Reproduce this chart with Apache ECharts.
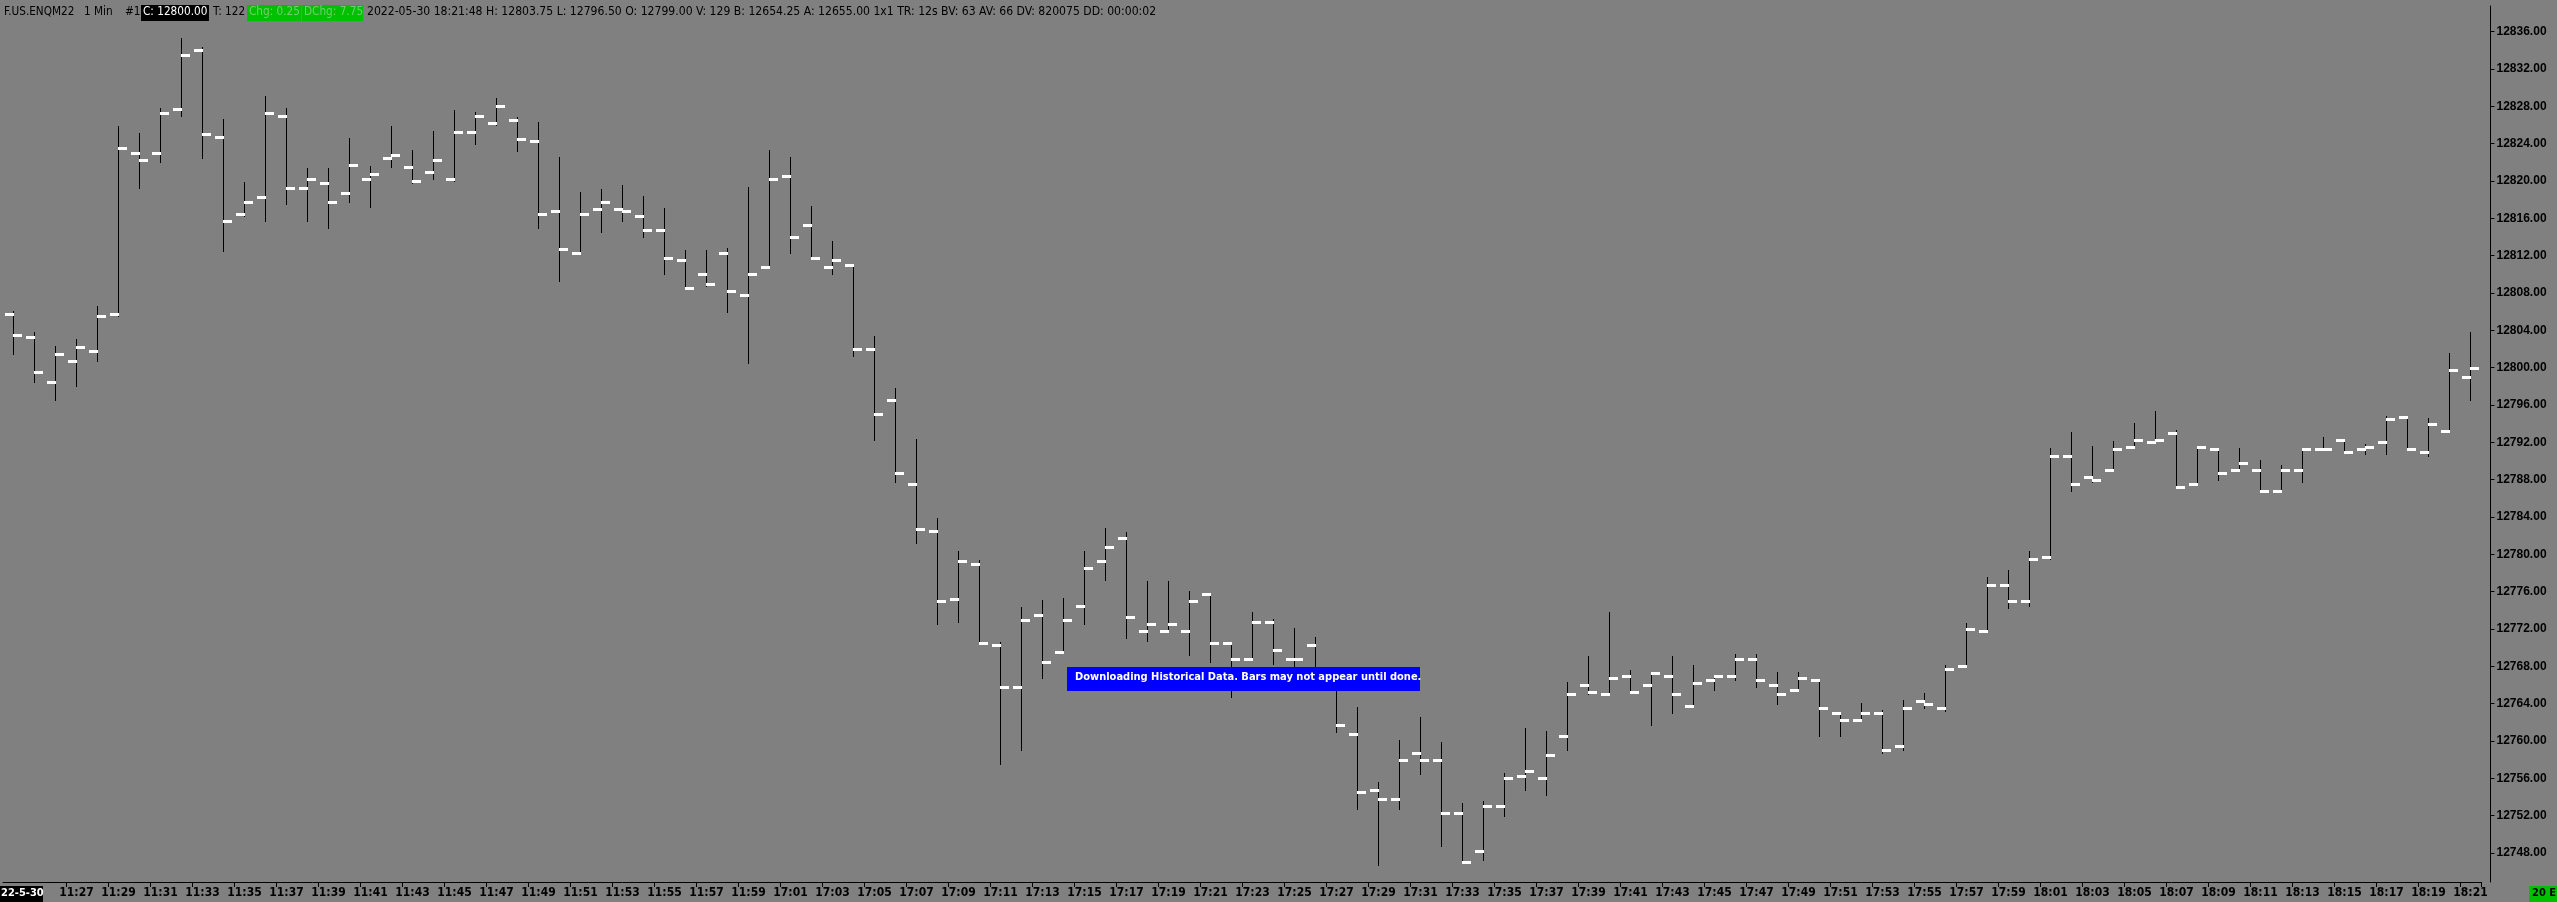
<!DOCTYPE html>
<html>
<head>
<meta charset="utf-8">
<script src="https://cdn.jsdelivr.net/npm/echarts@6/dist/echarts.min.js"></script>
<style>
html,body{margin:0;padding:0;background:#808080;}
#chart{width:2557px;height:902px;}
</style>
</head>
<body>
<div id="chart"></div>
<script>
var times = ['11:24','11:25','11:26','11:27','11:28','11:29','11:30','11:31','11:32','11:33','11:34','11:35','11:36','11:37','11:38','11:39','11:40','11:41','11:42','11:43','11:44','11:45','11:46','11:47','11:48','11:49','11:50','11:51','11:52','11:53','11:54','11:55','11:56','11:57','11:58','11:59',
'17:00','17:01','17:02','17:03','17:04','17:05','17:06','17:07','17:08','17:09','17:10','17:11','17:12','17:13','17:14','17:15','17:16','17:17','17:18','17:19','17:20','17:21','17:22','17:23','17:24','17:25','17:26','17:27','17:28','17:29','17:30','17:31','17:32','17:33','17:34','17:35','17:36','17:37','17:38','17:39','17:40','17:41','17:42','17:43','17:44','17:45','17:46','17:47','17:48','17:49','17:50','17:51','17:52','17:53','17:54','17:55','17:56','17:57','17:58','17:59',
'18:00','18:01','18:02','18:03','18:04','18:05','18:06','18:07','18:08','18:09','18:10','18:11','18:12','18:13','18:14','18:15','18:16','18:17','18:18','18:19','18:20','18:21'];

var opens = [12805.75,12803.25,12798.5,12800.75,12801.75,12805.75,12823.0,12823.0,12827.75,12834.0,12824.75,12816.5,12818.25,12827.0,12819.25,12819.75,12818.75,12820.25,12822.5,12821.5,12821.0,12820.25,12825.25,12826.25,12826.5,12824.25,12816.75,12812.25,12817.0,12817.0,12816.25,12814.75,12811.5,12810.0,12812.25,12807.75,
12810.75,12820.5,12815.25,12810.75,12811.0,12802.0,12796.5,12787.5,12782.5,12775.25,12779.0,12770.25,12765.75,12773.5,12769.5,12774.5,12779.25,12781.75,12771.75,12771.75,12771.75,12775.75,12770.5,12768.75,12772.75,12768.75,12770.25,12766.5,12760.75,12754.75,12753.75,12758.75,12758.0,12752.25,12748.25,12753.0,12756.25,12756.0,12760.5,12766.0,12765.0,12767.0,12766.0,12767.0,12763.75,12766.5,12767.0,12768.75,12766.0,12765.5,12766.5,12763.0,12762.25,12763.0,12759.5,12764.25,12763.5,12768.0,12771.75,12776.75,
12775.0,12779.75,12790.5,12788.25,12789.0,12791.5,12792.0,12793.0,12787.5,12791.25,12789.0,12789.0,12786.75,12789.0,12791.25,12792.25,12791.25,12792.0,12794.75,12791.0,12793.25,12799.0];

var highs = [12806.0,12803.75,12802.25,12803.0,12806.5,12825.75,12825.0,12827.75,12835.25,12834.25,12826.5,12819.75,12829.0,12827.75,12821.25,12821.25,12824.5,12821.5,12825.75,12823.25,12825.25,12827.5,12827.25,12828.75,12826.75,12826.25,12822.5,12818.75,12819.0,12819.5,12818.25,12817.0,12812.5,12812.5,12812.75,12819.25,
12823.25,12822.5,12817.25,12813.5,12811.0,12803.25,12797.75,12792.25,12783.75,12780.25,12779.25,12770.5,12774.25,12775.0,12775.25,12780.25,12782.75,12782.25,12777.0,12777.0,12776.0,12775.75,12770.5,12773.75,12773.0,12772.0,12771.0,12767.0,12763.5,12755.5,12760.0,12762.5,12759.75,12753.25,12753.5,12756.5,12761.25,12761.0,12766.25,12769.0,12773.75,12767.5,12767.25,12769.0,12768.0,12767.0,12769.25,12769.25,12767.25,12767.25,12766.5,12763.0,12764.0,12763.25,12764.25,12765.0,12768.0,12772.5,12777.5,12778.25,
12780.25,12791.25,12793.0,12791.5,12792.0,12794.0,12795.25,12793.25,12791.5,12791.25,12791.25,12790.0,12789.5,12791.25,12792.5,12792.25,12791.75,12794.75,12794.75,12794.5,12801.5,12803.75];

var lows = [12801.5,12798.5,12796.5,12798.0,12800.75,12805.5,12819.25,12822.0,12827.0,12822.5,12812.5,12816.25,12815.75,12817.5,12815.75,12815.0,12817.75,12817.25,12821.5,12819.75,12820.25,12820.0,12824.0,12826.0,12823.25,12815.0,12809.25,12812.25,12814.5,12815.75,12814.0,12810.0,12808.5,12808.75,12806.0,12800.5,
12810.75,12812.25,12811.75,12810.0,12801.25,12792.25,12787.75,12781.25,12772.5,12772.75,12770.5,12757.5,12759.0,12766.75,12769.5,12772.5,12777.25,12771.0,12770.75,12771.75,12769.25,12768.5,12764.75,12768.75,12768.25,12767.0,12766.0,12761.0,12752.75,12746.75,12752.75,12756.5,12748.75,12747.0,12747.25,12752.0,12754.75,12754.25,12759.0,12765.0,12765.0,12765.25,12761.75,12763.0,12763.75,12765.5,12766.5,12765.75,12764.0,12765.5,12760.5,12760.5,12762.25,12758.75,12759.0,12763.5,12763.25,12768.0,12771.75,12774.25,
12774.5,12779.5,12786.75,12787.75,12789.0,12791.5,12792.0,12787.25,12787.5,12788.0,12789.0,12786.75,12786.75,12787.75,12791.25,12791.0,12790.75,12790.75,12791.25,12790.5,12793.25,12796.5];

var closes = [12803.5,12799.5,12801.5,12802.25,12805.5,12823.5,12822.25,12827.25,12833.5,12825.0,12815.75,12817.75,12827.25,12819.25,12820.25,12817.75,12821.75,12820.75,12822.75,12820.0,12822.25,12825.25,12827.0,12828.0,12824.5,12816.5,12812.75,12816.5,12817.75,12816.75,12814.75,12811.75,12808.5,12809.0,12808.25,12810.0,
12820.25,12814.0,12811.75,12811.5,12802.0,12795.0,12788.75,12782.75,12775.0,12779.25,12770.5,12765.75,12773.0,12768.5,12773.0,12778.5,12780.75,12773.25,12772.5,12772.5,12775.0,12770.5,12768.75,12772.75,12769.75,12768.75,12766.5,12761.75,12754.5,12753.75,12758.0,12758.0,12752.25,12747.0,12753.0,12756.0,12756.75,12758.5,12765.0,12765.25,12766.75,12765.25,12767.25,12765.0,12766.25,12767.0,12768.75,12766.5,12765.0,12766.75,12763.5,12762.25,12763.0,12759.0,12763.5,12764.0,12767.75,12772.0,12776.75,12775.0,
12779.5,12790.5,12787.5,12788.0,12791.25,12792.25,12792.25,12787.25,12791.5,12788.75,12789.75,12786.75,12789.0,12791.25,12791.25,12791.0,12791.5,12794.5,12791.25,12794.0,12799.75,12800.0];

var priceTicks = [12748,12752,12756,12760,12764,12768,12772,12776,12780,12784,12788,12792,12796,12800,12804,12808,12812,12816,12820,12824,12828,12832,12836];

var headerInfo = '2022-05-30 18:21:48 H: 12803.75 L: 12796.50 O: 12799.00 V: 129 B: 12654.25 A: 12655.00 1x1 TR: 12s BV: 63 AV: 66 DV: 820075 DD: 00:00:02';

var ohlc = times.map(function (t, i) { return [i, opens[i], closes[i], lows[i], highs[i]]; });

var narrow = '"DejaVu Sans Condensed", "Liberation Sans Narrow", sans-serif';
var hfont = '11.7px ' + narrow;

var chart = echarts.init(document.getElementById('chart'), null, {renderer: 'canvas'});

var option = {
  backgroundColor: '#808080',
  animation: false,
  grid: {left: 3, width: 2478, top: 6, height: 876, containLabel: false},
  xAxis: {
    type: 'category',
    data: times,
    boundaryGap: true,
    axisLine: {show: true, lineStyle: {color: '#000', width: 1}},
    axisTick: {show: true, length: 5, lineStyle: {color: '#000'},
      interval: function (i) { return i % 2 === 1 && i >= 3; }},
    axisLabel: {
      color: '#000', fontFamily: narrow, fontWeight: 'bold', fontSize: 12, margin: 5,
      interval: function (i) { return i % 2 === 1 && i >= 3; }
    },
    splitLine: {show: false}
  },
  yAxis: {
    type: 'value',
    position: 'right',
    offset: 9.5,
    min: 12744.896,
    max: 12838.754,
    scale: true,
    axisLine: {show: true, lineStyle: {color: '#000', width: 1}},
    axisTick: {show: true, length: 4, lineStyle: {color: '#000'}, customValues: priceTicks},
    axisLabel: {
      color: '#000', fontFamily: '"Liberation Sans", Arial, sans-serif', fontWeight: 'bold', fontSize: 12, margin: 6,
      customValues: priceTicks,
      formatter: function (v) { return v.toFixed(2); }
    },
    splitLine: {show: false}
  },
  series: [{
    type: 'custom',
    data: ohlc,
    encode: {x: 0, y: [1, 2, 3, 4]},
    clip: true,
    z: 2,
    renderItem: function (params, api) {
      var idx = api.value(0);
      var o = api.coord([idx, api.value(1)]);
      var c = api.coord([idx, api.value(2)]);
      var l = api.coord([idx, api.value(3)]);
      var h = api.coord([idx, api.value(4)]);
      var x = Math.floor(o[0]) + 0.5;
      var yo = Math.round(o[1]);
      var yc = Math.round(c[1]);
      return {
        type: 'group',
        children: [
          {type: 'line', shape: {x1: x, y1: Math.round(h[1]) - 1, x2: x, y2: Math.round(l[1]) + 1},
            style: {stroke: '#000', lineWidth: 1}},
          {type: 'rect', shape: {x: x - 8.5, y: yo - 1, width: 9, height: 3}, style: {fill: '#fff'}},
          {type: 'rect', shape: {x: x - 0.5, y: yc - 1, width: 9, height: 3}, style: {fill: '#fff'}}
        ]
      };
    }
  }],
  graphic: {
    elements: [
      {type: 'text', z: 100, left: 4, top: 6, style: {text: 'F.US.ENQM22', fill: '#000', font: hfont}},
      {type: 'text', z: 100, left: 84, top: 6, style: {text: '1 Min', fill: '#000', font: hfont}},
      {type: 'text', z: 100, left: 125, top: 6, style: {text: '#1', fill: '#000', font: hfont}},
      {type: 'rect', z: 100, left: 141, top: 5, shape: {width: 68, height: 16}, style: {fill: '#000'}},
      {type: 'text', z: 101, left: 143, top: 6, style: {text: 'C: 12800.00', fill: '#fff', font: hfont}},
      {type: 'text', z: 100, left: 213, top: 6, style: {text: 'T: 122', fill: '#000', font: hfont}},
      {type: 'rect', z: 100, left: 247, top: 5, shape: {width: 54, height: 16}, style: {fill: '#00c000'}},
      {type: 'text', z: 101, left: 249, top: 6, style: {text: 'Chg: 0.25', fill: '#70d070', font: hfont}},
      {type: 'rect', z: 100, left: 302, top: 5, shape: {width: 61, height: 16}, style: {fill: '#00c000'}},
      {type: 'text', z: 101, left: 304, top: 6, style: {text: 'DChg: 7.75', fill: '#70d070', font: hfont}},
      {type: 'text', z: 100, left: 367, top: 6, style: {text: headerInfo, fill: '#000', font: '12.1px ' + narrow}},
      {type: 'rect', z: 100, left: 1067, top: 667, shape: {width: 353, height: 24}, style: {fill: '#0000ff'}},
      {type: 'text', z: 101, left: 1075, top: 672, style: {text: 'Downloading Historical Data. Bars may not appear until done.', fill: '#fff', font: 'bold 11px ' + narrow}},
      {type: 'rect', z: 100, left: 0, top: 886, shape: {width: 43, height: 16}, style: {fill: '#000'}},
      {type: 'text', z: 101, left: 1, top: 888, style: {text: '22-5-30', fill: '#fff', font: 'bold 11px ' + narrow}},
      {type: 'rect', z: 100, left: 2529, top: 886, shape: {width: 28, height: 16}, style: {fill: '#00c000'}},
      {type: 'text', z: 101, left: 2532, top: 888, style: {text: '20 E', fill: '#000', font: 'bold 11px ' + narrow}}
    ]
  }
};
chart.setOption(option);
</script>
</body>
</html>
